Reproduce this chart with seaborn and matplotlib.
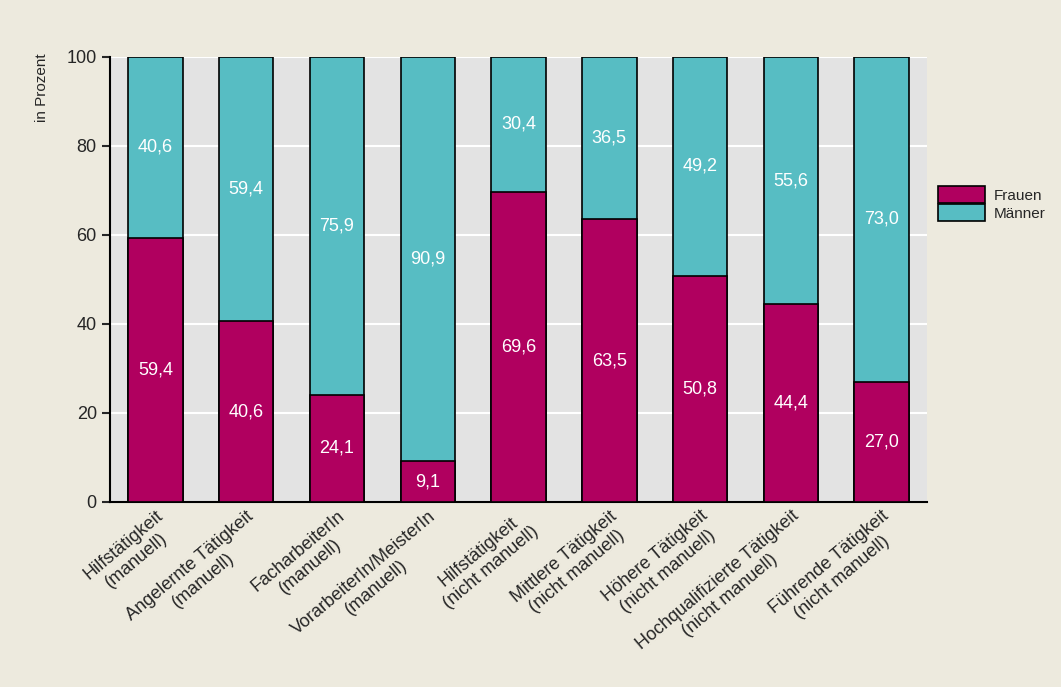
import matplotlib
matplotlib.use("Agg")
import matplotlib.pyplot as plt
import seaborn as sns
import pandas as pd

categories = ["Hilfstätigkeit\n(manuell)", "Angelernte Tätigkeit\n(manuell)", "FacharbeiterIn\n(manuell)",
              "VorarbeiterIn/MeisterIn\n(manuell)", "Hilfstätigkeit\n(nicht manuell)",
              "Mittlere Tätigkeit\n(nicht manuell)", "Höhere Tätigkeit\n(nicht manuell)",
              "Hochqualifizierte Tätigkeit\n(nicht manuell)", "Führende Tätigkeit\n(nicht manuell)"]
frauen = [59.4, 40.6, 24.1, 9.1, 69.6, 63.5, 50.8, 44.4, 27.0]
maenner = [40.6, 59.4, 75.9, 90.9, 30.4, 36.5, 49.2, 55.6, 73.0]

c_f = "#b0005f"
c_m = "#57bdc3"
bg = "#edeade"

sns.set_style("white")
plt.rcParams["font.family"] = ["Liberation Sans", "DejaVu Sans"]

df = pd.DataFrame({"cat": categories, "Frauen": frauen,
                   "total": [f + m for f, m in zip(frauen, maenner)]})

fig = plt.figure(figsize=(10.61, 6.87), dpi=100, facecolor=bg)
ax = fig.add_axes([0.1037, 0.2693, 0.77, 0.648])
ax.set_facecolor("#e3e3e3")

sns.barplot(data=df, x="cat", y="total", color=c_m, width=0.6, edgecolor="black",
            linewidth=1.2, ax=ax, label="Männer", zorder=3, saturation=1)
sns.barplot(data=df, x="cat", y="Frauen", color=c_f, width=0.6, edgecolor="black",
            linewidth=1.2, ax=ax, label="Frauen", zorder=4, saturation=1)

for i, (f, m) in enumerate(zip(frauen, maenner)):
    ax.text(i, f / 2, f"{f:.1f}".replace(".", ","), ha="center", va="center",
            color="white", fontsize=13, zorder=5)
    ax.text(i, f + m / 2, f"{m:.1f}".replace(".", ","), ha="center", va="center",
            color="white", fontsize=13, zorder=5)

ax.set_xlim(-0.5, len(categories) - 0.5)
ax.set_ylim(0, 100)
ax.set_yticks([0, 20, 40, 60, 80, 100])
ax.yaxis.grid(True, color="white", linewidth=1.5, zorder=0)
ax.set_axisbelow(True)
ax.tick_params(axis="y", length=6, width=1.5, labelsize=13, left=True)
ax.tick_params(axis="x", length=0, labelsize=13, pad=4)
ax.set_xticks(range(len(categories)))
ax.set_xticklabels(categories, rotation=40, ha="right", rotation_mode="anchor", multialignment="center")
ax.set_xlabel("")
ax.set_ylabel("in Prozent", fontsize=11)
ax.yaxis.set_label_coords(-0.075, 0.93)
for s in ["top", "right"]:
    ax.spines[s].set_visible(False)
for s in ["left", "bottom"]:
    ax.spines[s].set_linewidth(1.5)
    ax.spines[s].set_color("black")

handles, labels = ax.get_legend_handles_labels()
order = [labels.index("Frauen"), labels.index("Männer")]
leg = ax.legend([handles[i] for i in order], ["Frauen", "Männer"], loc="center left",
                bbox_to_anchor=(1.0, 0.67), frameon=False, fontsize=11,
                handlelength=3.1, handleheight=1.3, labelspacing=0.1, handletextpad=0.6,
                borderaxespad=0.3)

fig.savefig("out.png", dpi=100, facecolor=bg)
